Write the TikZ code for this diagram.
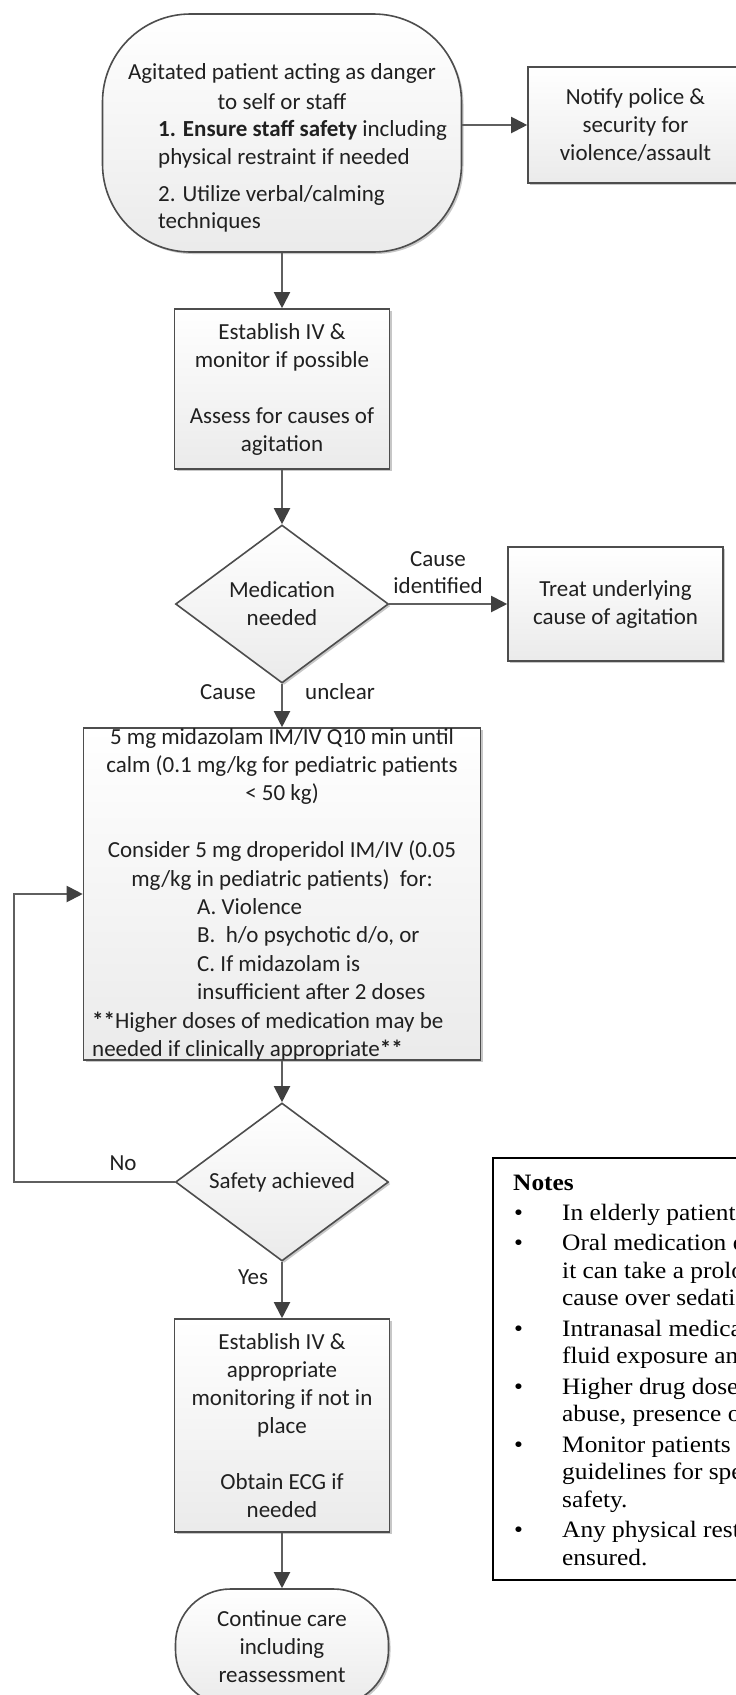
\documentclass[tikz,border=0pt]{standalone}
\usepackage{fontspec}
\setmainfont{Carlito}
\newfontfamily\notesfont[FakeStretch=1.08]{Liberation Serif}
\usetikzlibrary{arrows.meta,shapes.geometric,shadows}
\definecolor{linegray}{HTML}{5F5F5F}
\definecolor{edgegray}{HTML}{4D4D4D}
\definecolor{tipgray}{HTML}{404040}
\definecolor{inkc}{HTML}{202020}
\tikzset{
  shapebase/.style={draw=edgegray, line width=1.6pt, top color=white, bottom color=black!8,
    inner sep=0pt, text=inkc, align=center, font=\fontsize{23}{28}\selectfont,
    drop shadow={shadow xshift=2pt, shadow yshift=-2pt, fill=black, opacity=0.22}},
  procbox/.style={shapebase, rectangle},
  termbox/.style={shapebase, rectangle},
  decision/.style={shapebase, diamond, aspect=1.35, minimum width=213pt, minimum height=158pt},
  flowtext/.style={inner sep=0pt, text=inkc, font=\fontsize{23}{28}\selectfont},
  conn/.style={draw=linegray, line width=2pt, -{Triangle[length=16pt,width=16pt,color=tipgray]}},
  notetext/.style={inner sep=0pt, anchor=base west, text=black, font=\notesfont\fontsize{23.5}{27.6}\selectfont},
}
\begin{document}
\begin{tikzpicture}[x=1pt,y=-1pt]
\useasboundingbox (0,0) rectangle (736,1695);
\clip (0,0) rectangle (736,1695);
\fill[white] (0,0) rectangle (736,1695);

% ---- nodes ----
\node[termbox, rounded corners=88pt, minimum width=359pt, minimum height=238pt] (start) at (282,133) {};
\node[flowtext, anchor=base] (s1) at (282,79) {Agitated patient acting as danger};
\node[flowtext, anchor=base] (s2) at (282,109) {to self or staff};
\node[flowtext, anchor=base west] (s3) at (158,136) {\textbf{1. Ensure staff safety} including};
\node[flowtext, anchor=base west] (s4) at (158,164) {physical restraint if needed};
\node[flowtext, anchor=base west] (s5) at (158,201) {2. Utilize verbal/calming};
\node[flowtext, anchor=base west] (s6) at (158,228) {techniques};

\node[procbox, minimum width=215pt, minimum height=116pt] (notify) at (635.5,125) {Notify police \&\\security for\\violence/assault};

\node[procbox, minimum width=215pt, minimum height=160pt] (assess) at (282,389) {Establish IV \&\\monitor if possible\\[28pt]Assess for causes of\\agitation};

\node[decision] (med) at (282,604) {Medication\\needed};

\node[procbox, minimum width=215pt, minimum height=114pt] (treat) at (615.5,604) {Treat underlying\\cause of agitation};

\node[procbox, minimum width=397pt, minimum height=332pt] (drug) at (282,894) {};
\node[flowtext, anchor=base] (d1) at (282,744) {5 mg midazolam IM/IV Q10 min until};
\node[flowtext, anchor=base] (d2) at (282,772.4) {calm (0.1 mg/kg for pediatric patients};
\node[flowtext, anchor=base] (d3) at (282,800.8) {< 50 kg)};
\node[flowtext, anchor=base] (d4) at (282,857.6) {Consider 5 mg droperidol IM/IV (0.05};
\node[flowtext, anchor=base] (d5) at (282,886) {mg/kg in pediatric patients)\ \ for:};
\node[flowtext, anchor=base west] (d6) at (197,914.4) {A. Violence};
\node[flowtext, anchor=base west] (d7) at (197,942.8) {B. \ h/o psychotic d/o, or};
\node[flowtext, anchor=base west] (d8) at (197,971.2) {C. If midazolam is};
\node[flowtext, anchor=base west] (d9) at (197,999.6) {insufficient after 2 doses};
\node[flowtext, anchor=base west] (d10) at (92,1028) {\textbf{**}Higher doses of medication may be};
\node[flowtext, anchor=base west] (d11) at (92,1056.4) {needed if clinically appropriate\textbf{**}};

\node[decision] (safe) at (282,1182) {Safety achieved};

\node[procbox, minimum width=215pt, minimum height=213pt] (iv) at (282,1425.5) {Establish IV \&\\appropriate\\monitoring if not in\\place\\[28pt]Obtain ECG if\\needed};

\node[termbox, rounded corners=55pt, minimum width=213pt, minimum height=116pt] (end) at (282,1647) {Continue care\\including\\reassessment};

% ---- connector labels ----
\node[flowtext, anchor=base] (l1) at (438,566) {Cause};
\node[flowtext, anchor=base] (l2) at (438,593) {identified};
\node[flowtext, anchor=base] (l3) at (228,699) {Cause};
\node[flowtext, anchor=base] (l4) at (340,699) {unclear};
\node[flowtext, anchor=base] (l5) at (123,1170) {No};
\node[flowtext, anchor=base] (l6) at (253,1284) {Yes};

% ---- connectors ----
\draw[conn] (start.east |- notify.west) -- (notify.west);
\draw[conn] (start.south) -- (assess.north);
\draw[conn] (assess.south) -- (med.north);
\draw[conn] (med.east) -- (treat.west);
\draw[conn] (med.south) -- (drug.north);
\draw[conn] (drug.south) -- (safe.north);
\coordinate (loop) at (14,1182);
\draw[conn] (safe.west) -- (loop) |- (drug.west);
\draw[conn] (safe.south) -- (iv.north);
\draw[conn] (iv.south) -- (end.north);

% ---- notes ----
\node[draw=black, line width=2.2pt, fill=white, anchor=north west, minimum width=270pt, minimum height=422pt, inner sep=0pt] (notes) at (492,1157) {};
\node[notetext] (nh) at (513,1190) {\textbf{Notes}};
\node[notetext] (b1) at (514,1220) {•};
\node[notetext] (n1) at (562,1220) {In elderly patient};
\node[notetext] (b2) at (514,1250.4) {•};
\node[notetext] (n2) at (562,1250.4) {Oral medication o};
\node[notetext] (n3) at (562,1278) {it can take a prolo};
\node[notetext] (n4) at (562,1305.6) {cause over sedati};
\node[notetext] (b3) at (514,1336) {•};
\node[notetext] (n5) at (562,1336) {Intranasal medica};
\node[notetext] (n6) at (562,1363.6) {fluid exposure an};
\node[notetext] (b4) at (514,1394) {•};
\node[notetext] (n7) at (562,1394) {Higher drug dose};
\node[notetext] (n8) at (562,1421.6) {abuse, presence o};
\node[notetext] (b5) at (514,1452) {•};
\node[notetext] (n9) at (562,1452) {Monitor patients};
\node[notetext] (n10) at (562,1479.6) {guidelines for spe};
\node[notetext] (n11) at (562,1507.2) {safety.};
\node[notetext] (b6) at (514,1537.6) {•};
\node[notetext] (n12) at (562,1537.6) {Any physical rest};
\node[notetext] (n13) at (562,1565.2) {ensured.};
\end{tikzpicture}
\end{document}
